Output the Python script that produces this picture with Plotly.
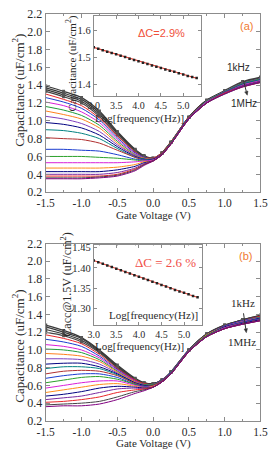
import plotly.graph_objects as go

# ---------------- data ----------------
VOLT = [-1.5, -1.25, -1.0, -0.75, -0.5, -0.25, -0.125, 0.0, 0.125, 0.25, 0.5, 0.75, 1.0, 1.25, 1.5]

# panel (a): C-V curves, 1 kHz (first) ... 1 MHz (last), uF/cm2
CAP_A = [
    [1.39, 1.33, 1.26, 1.11, 0.88, 0.68, 0.61, 0.58, 0.64, 0.76, 1.04, 1.23, 1.34, 1.44, 1.49],
    [1.37, 1.31, 1.24, 1.09, 0.87, 0.67, 0.60, 0.58, 0.64, 0.76, 1.04, 1.23, 1.33, 1.43, 1.48],
    [1.35, 1.29, 1.22, 1.07, 0.86, 0.67, 0.60, 0.58, 0.64, 0.76, 1.04, 1.23, 1.33, 1.43, 1.48],
    [1.33, 1.27, 1.20, 1.05, 0.84, 0.66, 0.60, 0.58, 0.64, 0.76, 1.04, 1.22, 1.33, 1.43, 1.48],
    [1.30, 1.24, 1.17, 1.03, 0.83, 0.65, 0.59, 0.58, 0.64, 0.76, 1.04, 1.22, 1.33, 1.42, 1.47],
    [1.26, 1.21, 1.14, 1.01, 0.81, 0.64, 0.59, 0.57, 0.63, 0.75, 1.03, 1.22, 1.33, 1.42, 1.47],
    [1.21, 1.17, 1.10, 0.98, 0.79, 0.63, 0.58, 0.57, 0.63, 0.75, 1.03, 1.22, 1.33, 1.42, 1.47],
    [1.16, 1.12, 1.06, 0.95, 0.77, 0.62, 0.58, 0.57, 0.63, 0.75, 1.03, 1.22, 1.33, 1.42, 1.47],
    [1.11, 1.07, 1.02, 0.92, 0.75, 0.61, 0.58, 0.57, 0.63, 0.75, 1.03, 1.21, 1.32, 1.41, 1.46],
    [1.05, 1.02, 0.97, 0.88, 0.73, 0.61, 0.57, 0.57, 0.63, 0.75, 1.03, 1.21, 1.32, 1.41, 1.46],
    [0.98, 0.96, 0.92, 0.84, 0.71, 0.60, 0.57, 0.57, 0.63, 0.75, 1.03, 1.21, 1.32, 1.41, 1.46],
    [0.90, 0.89, 0.86, 0.80, 0.69, 0.59, 0.57, 0.56, 0.63, 0.75, 1.03, 1.21, 1.32, 1.41, 1.46],
    [0.81, 0.80, 0.79, 0.75, 0.67, 0.59, 0.56, 0.56, 0.63, 0.75, 1.03, 1.21, 1.32, 1.40, 1.45],
    [0.68, 0.68, 0.67, 0.66, 0.62, 0.57, 0.56, 0.56, 0.62, 0.75, 1.03, 1.21, 1.32, 1.40, 1.45],
    [0.60, 0.60, 0.60, 0.59, 0.58, 0.56, 0.55, 0.56, 0.62, 0.75, 1.02, 1.21, 1.31, 1.40, 1.45],
    [0.53, 0.53, 0.53, 0.53, 0.53, 0.54, 0.55, 0.56, 0.62, 0.74, 1.02, 1.21, 1.31, 1.40, 1.45],
    [0.47, 0.47, 0.47, 0.47, 0.48, 0.51, 0.54, 0.55, 0.62, 0.74, 1.02, 1.20, 1.31, 1.39, 1.44],
    [0.43, 0.43, 0.43, 0.43, 0.45, 0.49, 0.53, 0.55, 0.62, 0.74, 1.02, 1.20, 1.31, 1.39, 1.44],
    [0.40, 0.40, 0.40, 0.40, 0.42, 0.47, 0.52, 0.55, 0.62, 0.74, 1.02, 1.20, 1.31, 1.39, 1.44],
    [0.38, 0.38, 0.38, 0.38, 0.40, 0.46, 0.51, 0.55, 0.62, 0.74, 1.02, 1.20, 1.31, 1.38, 1.43],
    [0.36, 0.36, 0.36, 0.37, 0.39, 0.45, 0.51, 0.55, 0.62, 0.74, 1.02, 1.20, 1.30, 1.38, 1.43],
    [0.35, 0.35, 0.35, 0.36, 0.38, 0.44, 0.50, 0.55, 0.62, 0.74, 1.02, 1.20, 1.30, 1.38, 1.43],
]

# panel (b)
CAP_B = [
    [1.28, 1.22, 1.14, 1.00, 0.83, 0.68, 0.63, 0.62, 0.66, 0.75, 1.00, 1.18, 1.28, 1.34, 1.39],
    [1.26, 1.20, 1.13, 0.99, 0.82, 0.67, 0.63, 0.62, 0.66, 0.75, 1.00, 1.18, 1.28, 1.34, 1.39],
    [1.23, 1.18, 1.11, 0.98, 0.81, 0.67, 0.62, 0.62, 0.66, 0.75, 1.00, 1.18, 1.27, 1.34, 1.38],
    [1.20, 1.16, 1.09, 0.97, 0.80, 0.66, 0.62, 0.61, 0.66, 0.75, 1.00, 1.18, 1.27, 1.33, 1.38],
    [1.17, 1.13, 1.07, 0.95, 0.79, 0.66, 0.62, 0.61, 0.66, 0.75, 1.00, 1.17, 1.27, 1.33, 1.38],
    [1.12, 1.09, 1.04, 0.93, 0.78, 0.65, 0.61, 0.61, 0.66, 0.75, 1.00, 1.17, 1.27, 1.33, 1.37],
    [1.06, 1.04, 1.00, 0.91, 0.77, 0.65, 0.61, 0.61, 0.65, 0.74, 0.99, 1.17, 1.26, 1.32, 1.37],
    [1.01, 1.00, 0.97, 0.89, 0.76, 0.64, 0.61, 0.61, 0.65, 0.74, 0.99, 1.17, 1.26, 1.32, 1.37],
    [0.96, 0.95, 0.93, 0.87, 0.75, 0.64, 0.60, 0.60, 0.65, 0.74, 0.99, 1.17, 1.26, 1.32, 1.36],
    [0.90, 0.90, 0.89, 0.84, 0.74, 0.63, 0.60, 0.60, 0.65, 0.74, 0.99, 1.16, 1.26, 1.32, 1.36],
    [0.84, 0.85, 0.85, 0.81, 0.73, 0.63, 0.60, 0.60, 0.65, 0.74, 0.99, 1.16, 1.26, 1.31, 1.36],
    [0.79, 0.81, 0.81, 0.79, 0.72, 0.62, 0.59, 0.60, 0.65, 0.74, 0.99, 1.16, 1.25, 1.31, 1.35],
    [0.73, 0.76, 0.77, 0.76, 0.71, 0.62, 0.59, 0.60, 0.65, 0.74, 0.99, 1.16, 1.25, 1.31, 1.35],
    [0.68, 0.71, 0.73, 0.73, 0.69, 0.61, 0.59, 0.59, 0.64, 0.74, 0.98, 1.16, 1.25, 1.31, 1.35],
    [0.63, 0.66, 0.69, 0.70, 0.67, 0.61, 0.58, 0.59, 0.64, 0.74, 0.98, 1.16, 1.25, 1.30, 1.34],
    [0.57, 0.60, 0.63, 0.65, 0.65, 0.60, 0.58, 0.59, 0.64, 0.73, 0.98, 1.15, 1.25, 1.30, 1.34],
    [0.52, 0.55, 0.58, 0.61, 0.62, 0.59, 0.57, 0.59, 0.64, 0.73, 0.98, 1.15, 1.24, 1.30, 1.34],
    [0.48, 0.50, 0.53, 0.57, 0.59, 0.58, 0.57, 0.58, 0.64, 0.73, 0.98, 1.15, 1.24, 1.30, 1.34],
    [0.44, 0.46, 0.48, 0.52, 0.56, 0.57, 0.56, 0.58, 0.64, 0.73, 0.98, 1.15, 1.24, 1.29, 1.33],
    [0.41, 0.42, 0.44, 0.47, 0.52, 0.55, 0.56, 0.58, 0.64, 0.73, 0.98, 1.15, 1.24, 1.29, 1.33],
    [0.38, 0.39, 0.40, 0.42, 0.47, 0.53, 0.55, 0.58, 0.64, 0.73, 0.98, 1.15, 1.24, 1.29, 1.33],
    [0.36, 0.37, 0.37, 0.39, 0.44, 0.51, 0.54, 0.58, 0.64, 0.73, 0.98, 1.15, 1.24, 1.29, 1.33],
]

# insets: accumulation capacitance vs log frequency
LOGF = [3.0, 3.1, 3.2, 3.3, 3.4, 3.5, 3.6, 3.7, 3.8, 3.9, 4.0, 4.1, 4.2,
        4.3, 4.4, 4.5, 4.6, 4.7, 4.8, 4.9, 5.0, 5.1, 5.2, 5.3]
CACC_A = [1.538, 1.533, 1.527, 1.522, 1.517, 1.512, 1.507, 1.502, 1.496, 1.491, 1.486, 1.481,
          1.476, 1.471, 1.466, 1.461, 1.456, 1.451, 1.447, 1.442, 1.437, 1.432, 1.428, 1.424]
CACC_B = [1.418, 1.414, 1.410, 1.406, 1.402, 1.398, 1.394, 1.390, 1.386, 1.382, 1.378, 1.374,
          1.370, 1.366, 1.362, 1.358, 1.354, 1.350, 1.346, 1.342, 1.339, 1.335, 1.331, 1.328]

VOLT_TICKS = [-1.5, -1.0, -0.5, 0.0, 0.5, 1.0, 1.5]
CAP_TICKS = [0.2, 0.4, 0.6, 0.8, 1.0, 1.2, 1.4, 1.6, 1.8, 2.0, 2.2]
LOGF_TICKS = [3.0, 3.5, 4.0, 4.5, 5.0]
INSET_A_TICKS = [1.4, 1.5, 1.6]
INSET_B_TICKS = [1.30, 1.35, 1.40, 1.45]

# ---------------- styling ----------------
W, H = 275, 456
def PX(x): return x / W
def PY(y): return 1 - y / H

SERIF = "Liberation Serif"
SANS = "Liberation Sans"
TXT = "#2a2a2a"
FRAME = "#8c8c8c"
PALETTE = ["#3a3a3a", "#3a3a3a", "#3a3a3a", "#444444", "#e8262a", "#1a3ccf", "#d81fd8",
           "#1f9a3a", "#ff7f1e", "#7f3fbf", "#000080", "#008080", "#b03030", "#1a3ccf",
           "#2aa02a", "#d81fd8", "#ff8c1a", "#000080", "#7a2aa0", "#e8262a", "#444444", "#800080"]

fig = go.Figure()

def add_cv(curves, xa, ya):
    for i, c in enumerate(curves):
        col = PALETTE[i % len(PALETTE)]
        if i < 4:
            fig.add_trace(go.Scatter(
                x=VOLT, y=c, mode="lines+markers", xaxis=xa, yaxis=ya, showlegend=False,
                line=dict(color=col, width=1.2, shape="spline", smoothing=0.7),
                marker=dict(symbol="square", size=3, color="#555555")))
        else:
            fig.add_trace(go.Scatter(
                x=VOLT, y=c, mode="lines", xaxis=xa, yaxis=ya, showlegend=False,
                line=dict(color=col, width=1, shape="spline", smoothing=0.7)))

add_cv(CAP_A, "x", "y")
fig.add_trace(go.Scatter(x=LOGF, y=CACC_A, mode="lines+markers", xaxis="x2", yaxis="y2",
                         showlegend=False, line=dict(color="#e8463a", width=1.2),
                         marker=dict(symbol="square", size=2.5, color="#222222")))
add_cv(CAP_B, "x3", "y3")
fig.add_trace(go.Scatter(x=LOGF, y=CACC_B, mode="lines+markers", xaxis="x4", yaxis="y4",
                         showlegend=False, line=dict(color="#e8463a", width=1.2),
                         marker=dict(symbol="square", size=2.5, color="#222222")))

def main_x(anchor):
    return dict(domain=[PX(39), PX(267)], range=[-1.5, 1.5], anchor=anchor,
                tickvals=VOLT_TICKS, ticktext=[f"{v:.1f}" for v in VOLT_TICKS],
                ticks="inside", ticklen=4, tickcolor=FRAME, mirror="ticks",
                showline=True, linecolor=FRAME, linewidth=1, showgrid=False, zeroline=False,
                minor=dict(ticks="inside", dtick=0.25, ticklen=2, tickcolor=FRAME),
                tickfont=dict(family=SERIF, size=11.5, color=TXT))

def main_y(anchor, dom):
    return dict(domain=dom, range=[0.2, 2.2], anchor=anchor,
                tickvals=CAP_TICKS, ticktext=[f"{v:.1f}" for v in CAP_TICKS],
                ticks="inside", ticklen=4, tickcolor=FRAME, mirror="ticks",
                showline=True, linecolor=FRAME, linewidth=1, showgrid=False, zeroline=False,
                tickfont=dict(family=SERIF, size=12, color=TXT))

def inset_x(anchor, dom_x):
    return dict(domain=dom_x, range=[3.0, 5.4], anchor=anchor,
                tickvals=LOGF_TICKS, ticktext=[f"{v:.1f}" for v in LOGF_TICKS],
                ticks="inside", ticklen=3, tickcolor=FRAME, mirror="ticks",
                showline=True, linecolor=FRAME, linewidth=1, showgrid=False, zeroline=False,
                tickfont=dict(family=SERIF, size=10, color=TXT))

def inset_y(anchor, dom, rng, tv, fmt):
    return dict(domain=dom, range=rng, anchor=anchor,
                tickvals=tv, ticktext=[fmt.format(v) for v in tv],
                ticks="inside", ticklen=3, tickcolor=FRAME, mirror="ticks",
                showline=True, linecolor=FRAME, linewidth=1, showgrid=False, zeroline=False,
                tickfont=dict(family=SERIF, size=10.5, color=TXT))

ann = []
shapes = []
def text(x, y, s, size, family=SERIF, color=TXT, angle=0):
    ann.append(dict(x=PX(x), y=PY(y), xref="paper", yref="paper", text=s, showarrow=False,
                    textangle=angle, xanchor="center", yanchor="middle",
                    font=dict(family=family, size=size, color=color)))

def arrow(x_tail, y_tail, x_head, y_head):
    dx, dy = x_head - x_tail, y_head - y_tail
    n = (dx * dx + dy * dy) ** 0.5
    ux, uy = dx / n, dy / n
    bx, by = x_head - 4 * ux, y_head - 4 * uy
    shapes.append(dict(type="line", xref="paper", yref="paper",
                       x0=PX(x_tail), y0=PY(y_tail), x1=PX(bx), y1=PY(by),
                       line=dict(color="#333333", width=1)))
    p1 = (bx - 1.8 * uy, by + 1.8 * ux)
    p2 = (bx + 1.8 * uy, by - 1.8 * ux)
    path = (f"M {PX(x_head)} {PY(y_head)} L {PX(p1[0])} {PY(p1[1])} "
            f"L {PX(p2[0])} {PY(p2[1])} Z")
    shapes.append(dict(type="path", xref="paper", yref="paper", path=path,
                       fillcolor="#333333", line=dict(color="#333333", width=0.5)))

CM2 = "(uF/cm<sup>2</sup>)"
# panel (a)
text(10, 86, "Capacitance " + CM2, 13, angle=-90)
text(153, 215, "Gate Voltage (V)", 11)
text(66, 58, "Capacitance " + CM2, 11, angle=-90)
text(139, 115, "Log[frequency(Hz)]", 11)
text(162, 27, "\u0394C=2.9%", 11, family=SANS, color="#f0503a")
text(252, 20, "(a)", 11, family=SANS, color="#f07a30")
text(244, 62, "1kHz", 10, family=SANS)
text(250, 100, "1MHz", 10, family=SANS)
arrow(249, 76, 253, 91)
# panel (b)
text(10, 350, "Capacitance " + CM2, 13, angle=-90)
text(153, 450, "Gate Voltage (V)", 11)
text(61, 286, "Cacc@1.5V " + CM2, 12, angle=-90)
text(139, 350, "Log[frequency(Hz)]", 11)
text(153, 318, "Log[frequency(Hz)]", 11)
text(166, 264, "\u0394C = 2.6 %", 13, color="#f0504a")
text(251, 257, "(b)", 11, family=SANS, color="#f07a30")
text(248, 305, "1kHz", 11)
text(247, 346, "1MHz", 11)
arrow(249, 316, 252, 336)

fig.update_layout(
    width=W, height=H, margin=dict(l=0, r=0, t=0, b=0),
    paper_bgcolor="white", plot_bgcolor="white", showlegend=False,
    xaxis=main_x("y"), yaxis=main_y("x", [PY(191), PY(7)]),
    xaxis2=inset_x("y2", [PX(90), PX(204)]),
    yaxis2=inset_y("x2", [PY(92), PY(9)], [1.357, 1.655], INSET_A_TICKS, "{:.1f}"),
    xaxis3=main_x("y3"), yaxis3=main_y("x3", [PY(427), PY(244)]),
    xaxis4=inset_x("y4", [PX(90), PX(205)]),
    yaxis4=inset_y("x4", [PY(328), PY(246)], [1.26, 1.455], INSET_B_TICKS, "{:.2f}"),
    annotations=ann, shapes=shapes,
)

fig.write_html("out.html")
